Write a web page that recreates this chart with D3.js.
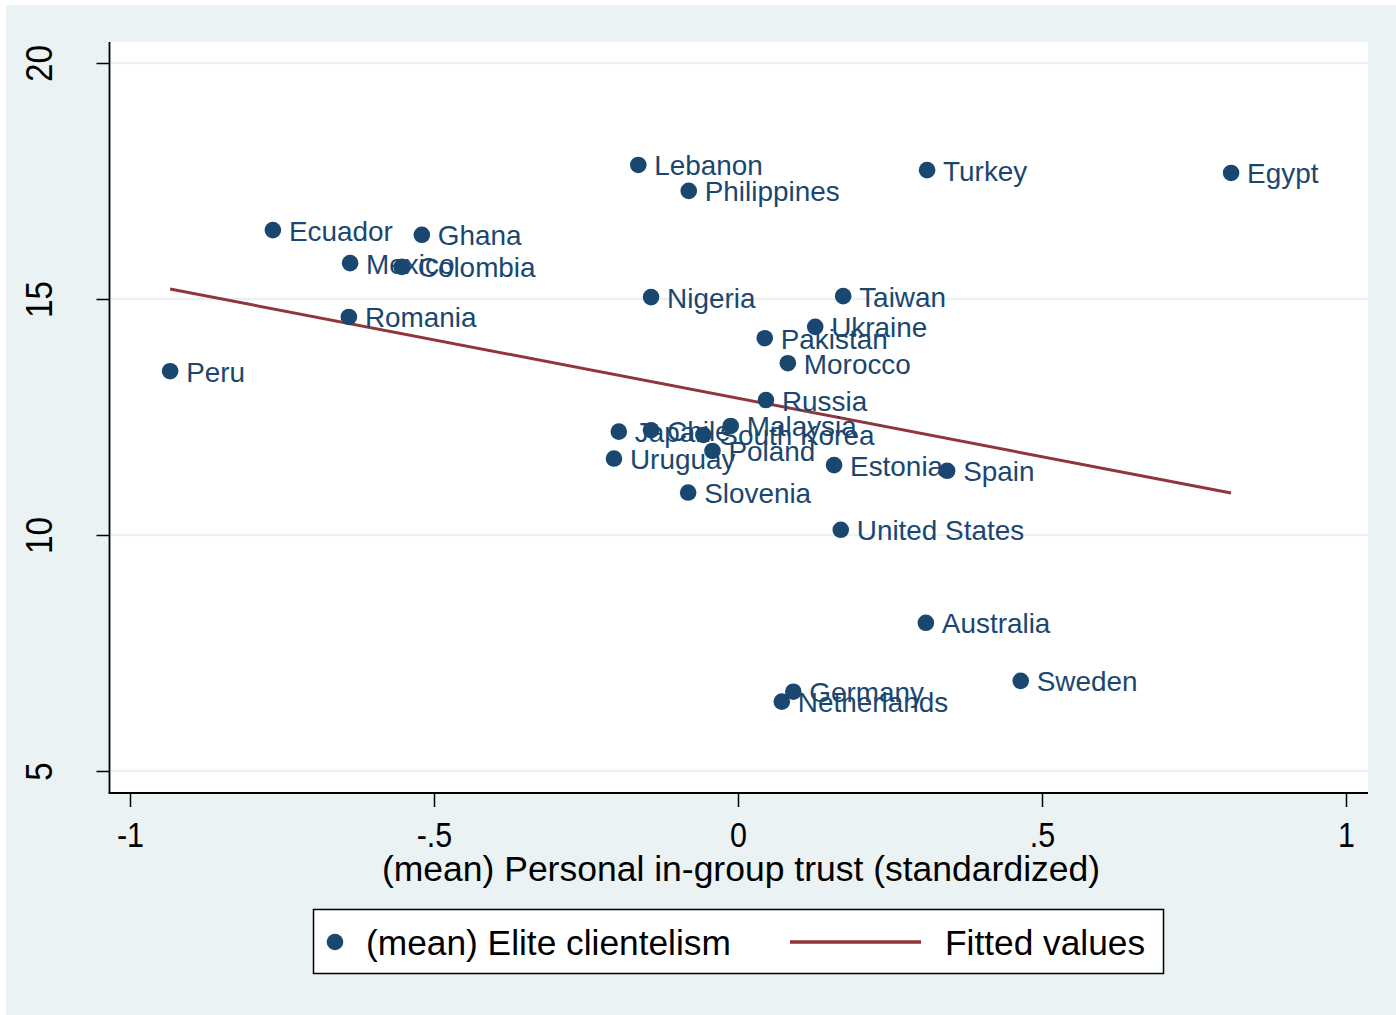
<!DOCTYPE html>
<html>
<head>
<meta charset="utf-8">
<script src="https://cdn.jsdelivr.net/npm/d3@7"></script>
<style>
  html, body { margin: 0; padding: 0; background: #ffffff; }
  svg { display: block; }
  text { font-family: "Liberation Sans", Arial, Helvetica, sans-serif; }
</style>
</head>
<body>
<svg id="chart" width="1396" height="1015"></svg>
<script>
// Country-level means: personal in-group trust (x) vs elite clientelism (y)
const countries = ["Lebanon","Turkey","Egypt","Philippines","Ecuador","Ghana","Mexico","Colombia",
  "Nigeria","Taiwan","Romania","Ukraine","Pakistan","Morocco","Peru","Russia","Malaysia","Japan",
  "Chile","South Korea","Poland","Uruguay","Estonia","Spain","Slovenia","United States",
  "Australia","Sweden","Germany","Netherlands"];
const trust = [-0.164, 0.311, 0.811, -0.081, -0.765, -0.520, -0.638, -0.553,
  -0.143, 0.173, -0.640, 0.127, 0.044, 0.082, -0.934, 0.046, -0.012, -0.196,
  -0.143, -0.057, -0.042, -0.204, 0.158, 0.344, -0.082, 0.169,
  0.309, 0.465, 0.091, 0.072];
const clientelism = [17.84, 17.73, 17.67, 17.29, 16.46, 16.36, 15.76, 15.68,
  15.04, 15.06, 14.62, 14.41, 14.17, 13.64, 13.47, 12.86, 12.31, 12.19,
  12.22, 12.12, 11.78, 11.62, 11.48, 11.36, 10.90, 10.11,
  8.14, 6.91, 6.68, 6.47];

// Linear fit over the observed range of x
const fitX = [-0.934, 0.811];
const fitY = [15.21, 10.89];

const xTicks = [-1, -0.5, 0, 0.5, 1];
const xTickLabels = ["-1", "-.5", "0", ".5", "1"];
const yTicks = [5, 10, 15, 20];
const yTickLabels = ["5", "10", "15", "20"];

const xTitle = "(mean) Personal in-group trust (standardized)";
const legendLabels = ["(mean) Elite clientelism", "Fitted values"];

const navy = "#1a476f", maroon = "#90353b", bg = "#eaf2f3";

const svg = d3.select("#chart");

// outer graph region
svg.append("rect").attr("x", 6).attr("y", 5).attr("width", 1390).attr("height", 1010).attr("fill", bg);

const plot = { left: 110, right: 1368, top: 42, bottom: 793 };
svg.append("rect").attr("x", plot.left).attr("y", plot.top)
  .attr("width", plot.right - plot.left).attr("height", plot.bottom - plot.top).attr("fill", "#fff");

const x = d3.scaleLinear().domain([-1, 1]).range([130, 1346]);
const y = d3.scaleLinear().domain([5, 20]).range([771, 63]);

// horizontal grid lines
svg.append("g").selectAll("line").data(yTicks).join("line")
  .attr("x1", plot.left).attr("x2", plot.right)
  .attr("y1", d => y(d)).attr("y2", d => y(d))
  .attr("stroke", bg).attr("stroke-width", 2.5);

// y axis (labels rotated, slightly condensed glyphs)
const yAxis = d3.axisLeft(y).tickValues(yTicks).tickFormat((d, i) => yTickLabels[i])
  .tickSize(13).tickSizeOuter(0);
const gy = svg.append("g").attr("transform", `translate(${plot.left - 0.5},0)`).call(yAxis);
gy.select(".domain").remove();
gy.selectAll(".tick line").attr("stroke", "#000").attr("stroke-width", 1.5);
gy.selectAll(".tick text").remove();
gy.selectAll(".tick").append("text")
  .attr("transform", "translate(-57.5,0) rotate(-90) scale(0.9,1)")
  .attr("text-anchor", "middle")
  .attr("fill", "#000").attr("font-size", 37)
  .text((d, i) => yTickLabels[i]);
svg.append("line").attr("x1", plot.left - 0.5).attr("x2", plot.left - 0.5)
  .attr("y1", plot.top).attr("y2", plot.bottom).attr("stroke", "#000").attr("stroke-width", 1.8);

// x axis
const xAxis = d3.axisBottom(x).tickValues(xTicks).tickFormat((d, i) => xTickLabels[i])
  .tickSize(14).tickSizeOuter(0);
const gx = svg.append("g").attr("transform", `translate(0,${plot.bottom})`).call(xAxis);
gx.select(".domain").remove();
gx.selectAll(".tick line").attr("stroke", "#000").attr("stroke-width", 1.5);
gx.selectAll(".tick text").attr("y", 0).attr("dy", 0)
  .attr("transform", "translate(0,54) scale(0.87,1)")
  .attr("fill", "#000").attr("font-size", 35)
  .attr("font-family", "Liberation Sans, Arial, sans-serif");
svg.append("line").attr("x1", plot.left - 1.4).attr("x2", plot.right)
  .attr("y1", plot.bottom).attr("y2", plot.bottom).attr("stroke", "#000").attr("stroke-width", 1.8);

svg.append("text").attr("x", 741).attr("y", 881).attr("text-anchor", "middle")
  .attr("font-size", 35.5).attr("fill", "#000").text(xTitle);

// fitted line
svg.append("path")
  .datum(fitX.map((v, i) => [v, fitY[i]]))
  .attr("d", d3.line().x(d => x(d[0])).y(d => y(d[1])))
  .attr("fill", "none").attr("stroke", maroon).attr("stroke-width", 3);

// points + labels (labels to the right of each marker)
const pts = countries.map((c, i) => ({ name: c, x: trust[i], y: clientelism[i] }));
const gp = svg.append("g");
gp.selectAll("circle").data(pts).join("circle")
  .attr("cx", d => x(d.x)).attr("cy", d => y(d.y)).attr("r", 8.3).attr("fill", navy);
gp.selectAll("text").data(pts).join("text")
  .attr("x", d => x(d.x) + 16).attr("y", d => y(d.y) + 10.5)
  .attr("font-size", 27.9).attr("fill", navy).text(d => d.name);

// legend
const lg = svg.append("g");
lg.append("rect").attr("x", 313.5).attr("y", 909.5).attr("width", 850).attr("height", 64)
  .attr("fill", "#fff").attr("stroke", "#000").attr("stroke-width", 1.5);
lg.append("circle").attr("cx", 335).attr("cy", 942).attr("r", 8.3).attr("fill", navy);
lg.append("text").attr("x", 366).attr("y", 955).attr("font-size", 35.3).attr("fill", "#000").text(legendLabels[0]);
lg.append("line").attr("x1", 790).attr("x2", 921).attr("y1", 942).attr("y2", 942)
  .attr("stroke", maroon).attr("stroke-width", 3.5);
lg.append("text").attr("x", 945).attr("y", 955).attr("font-size", 35.3).attr("fill", "#000").text(legendLabels[1]);
</script>
</body>
</html>
